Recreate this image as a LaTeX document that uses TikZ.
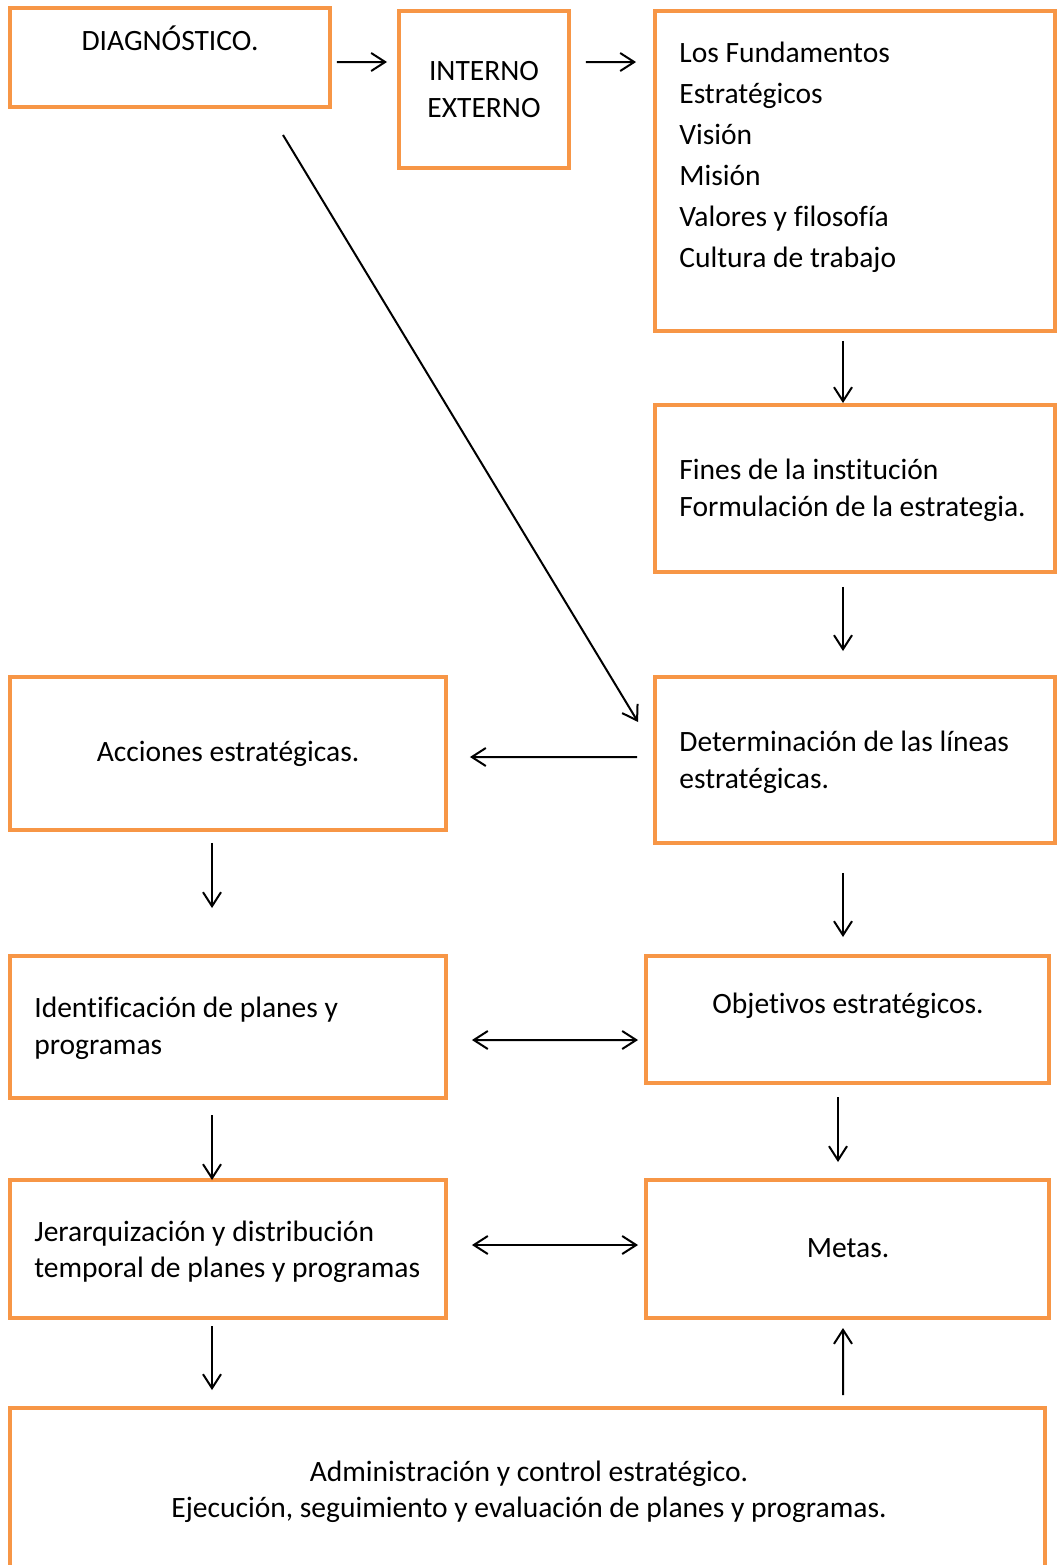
\documentclass[tikz,border=0pt]{standalone}
\usepackage{fontspec}
\setmainfont{Carlito}[Ligatures=NoCommon]
\usepackage{tikz}
\usetikzlibrary{shapes,arrows.meta}
\definecolor{naranja}{RGB}{247,150,70}

\begin{document}
\begin{tikzpicture}
		[
		x = 0.02cm, y = -0.02cm,
		caja/.style = {draw = naranja, line width = 0.08cm, rectangle, inner sep = 0pt, outer sep = 0pt},
		texto/.style = {inner sep = 0pt, align = left, font = \fontsize{16.8}{20.5}\selectfont},
		textoc/.style = {texto, align = center},
		flecha/.style = {-{Straight Barb[length=0.28cm, width=0.36cm]}, line width = 0.04cm},
		dflecha/.style = {{Straight Barb[length=0.28cm, width=0.36cm]}-{Straight Barb[length=0.28cm, width=0.36cm]}, line width = 0.04cm}
		]
		
		\useasboundingbox (0,0) rectangle (1057,1565);
		
		\node [caja, minimum width = 6.4cm, minimum height = 1.98cm] (diag) at (170,57.5) {};
		\node [caja, minimum width = 3.4cm, minimum height = 3.14cm] (intext) at (484,89.5) {};
		\node [caja, minimum width = 8cm, minimum height = 6.4cm] (fund) at (855,171) {};
		\node [caja, minimum width = 8cm, minimum height = 3.34cm] (fines) at (855,488.5) {};
		\node [caja, minimum width = 8cm, minimum height = 3.32cm] (deter) at (855,760) {};
		\node [caja, minimum width = 8.72cm, minimum height = 3.06cm] (acc) at (228,753.5) {};
		\node [caja, minimum width = 8.72cm, minimum height = 2.84cm] (ident) at (228,1027) {};
		\node [caja, minimum width = 8.06cm, minimum height = 2.54cm] (obj) at (847.5,1019.5) {};
		\node [caja, minimum width = 8.72cm, minimum height = 2.76cm] (jer) at (228,1249) {};
		\node [caja, minimum width = 8.06cm, minimum height = 2.76cm] (metas) at (847.5,1249) {};
		\node [caja, minimum width = 20.7cm, minimum height = 3.64cm] (admin) at (527.5,1499) {};
		
		\node [textoc, anchor = base] (tdiag) at (170,51) {DIAGNÓSTICO.};
		\node [textoc, anchor = base] (tintext) at (484,117) {INTERNO\\EXTERNO};
		\node [texto, anchor = base west, font = \fontsize{16.8}{23.25}\selectfont] (tfund) at (679,267)
			{Los Fundamentos\\Estratégicos\\Visión\\Misión\\Valores y filosofía\\Cultura de trabajo};
		\node [texto, anchor = base west] (tfines) at (679,516) {Fines de la institución\\Formulación de la estrategia.};
		\node [texto, anchor = base west] (tdeter) at (679,788) {Determinación de las líneas\\estratégicas.};
		\node [textoc, anchor = base] (tacc) at (228,761) {Acciones estratégicas.};
		\node [texto, anchor = base west] (tident) at (34,1054) {Identificación de planes y\\programas};
		\node [textoc, anchor = base] (tobj) at (848,1013) {Objetivos estratégicos.};
		\node [texto, anchor = base west] (tjer) at (34,1277) {Jerarquización y distribución\\temporal de planes y programas};
		\node [textoc, anchor = base] (tmetas) at (848,1257) {Metas.};
		\node [textoc, anchor = base] (tadmin) at (529,1517)
			{Administración y control estratégico.\\Ejecución, seguimiento y evaluación de planes y programas.};
		
		\draw [flecha] ([shift={(7,4.5)}]diag.east) -- ([shift={(-12,-27.5)}]intext.west);
		\draw [flecha] ([shift={(17,-27.5)}]intext.east) -- ([shift={(-19,51)}]fund.north west);
		\draw [flecha] ([shift={(-12,10)}]fund.south) -- ([shift={(-12,-2)}]fines.north);
		\draw [flecha] ([shift={(-12,15)}]fines.south) -- ([shift={(-12,-26)}]deter.north);
		\draw [flecha] ([shift={(113,28)}]diag.south) -- ([shift={(-17,-38)}]deter.west);
		\draw [flecha] ([shift={(-18,-3)}]deter.west) -- ([shift={(24,3.5)}]acc.east);
		\draw [flecha] ([shift={(-16,13)}]acc.south) -- ([shift={(-16,-48)}]ident.north);
		\draw [flecha] ([shift={(-12,30)}]deter.south) -- ([shift={(-4.5,-19)}]obj.north);
		\draw [flecha] ([shift={(-16,17)}]ident.south) -- ([shift={(-16,0)}]jer.north);
		\draw [dflecha] ([shift={(26,13)}]ident.east) -- ([shift={(-8,20.5)}]obj.west);
		\draw [flecha] ([shift={(-9.5,14)}]obj.south) -- ([shift={(-9.5,-18)}]metas.north);
		\draw [dflecha] ([shift={(26,-4)}]jer.east) -- ([shift={(-8,-4)}]metas.west);
		\draw [flecha] ([shift={(-16,8)}]jer.south) -- ([shift={(-315.5,-18)}]admin.north);
		\draw [flecha] ([shift={(315.5,-13)}]admin.north) -- ([shift={(-4.5,10)}]metas.south);
		
\end{tikzpicture}
\end{document}
